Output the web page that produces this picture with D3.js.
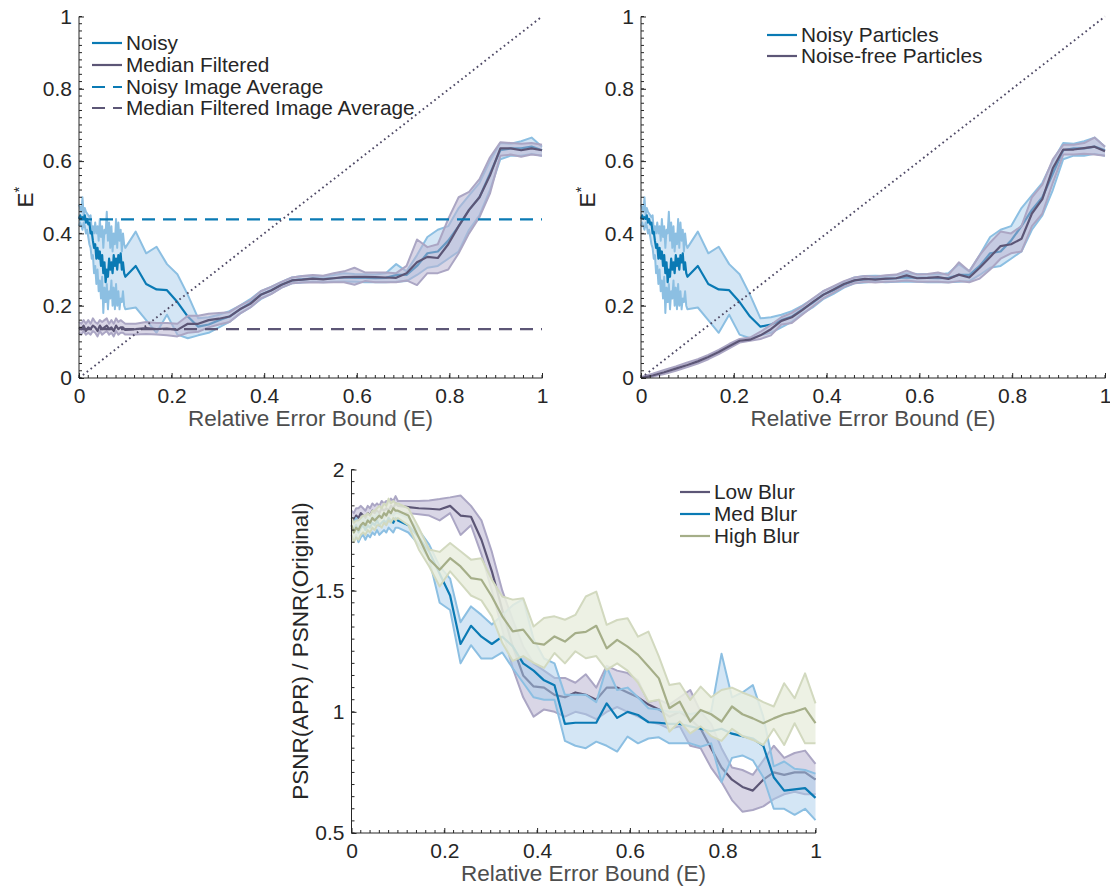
<!DOCTYPE html>
<html><head><meta charset="utf-8">
<script src="https://cdn.jsdelivr.net/npm/d3@7"></script>
<style>body{margin:0;background:#fff}svg{display:block}</style>
</head><body><svg id="c" width="1110" height="886"></svg>
<script>
// ---------- tick labels ----------
const xTicks = [0, 0.2, 0.4, 0.6, 0.8, 1];
const xTickLabels = ["0", "0.2", "0.4", "0.6", "0.8", "1"];
const yTicksTop = [0, 0.2, 0.4, 0.6, 0.8, 1];
const yTickLabelsTop = ["0", "0.2", "0.4", "0.6", "0.8", "1"];
const yTicksBottom = [0.5, 1, 1.5, 2];
const yTickLabelsBottom = ["0.5", "1", "1.5", "2"];

// ---------- x grids ----------
const xDense25 = [0,0.0025,0.005,0.0075,0.01,0.0125,0.015,0.0175,0.02,0.0225,0.025,0.0275,0.03,0.0325,0.035,0.0375,0.04,0.0425,0.045,0.0475,0.05,0.0525,0.055,0.0575,0.06,0.0625,0.065,0.0675,0.07,0.0725,0.075,0.0775,0.08,0.0825,0.085,0.0875,0.09,0.0925,0.095,0.0975,0.1];
const xDense5 = [0,0.005,0.01,0.015,0.02,0.025,0.03,0.035,0.04,0.045,0.05,0.055,0.06,0.065,0.07,0.075,0.08,0.085,0.09,0.095,0.1];
const xCoarse = [0,0.025,0.05,0.075,0.1];
const xSparse = [0.1225,0.145,0.1675,0.19,0.2125,0.235,0.2575,0.28,0.3025,0.325,0.3475,0.37,0.3925,0.415,0.4375,0.46,0.4825,0.505,0.5275,0.55,0.5725,0.595,0.6175,0.64,0.6625,0.685,0.7075,0.73,0.7525,0.775,0.7975,0.82,0.8425,0.865,0.8875,0.91,0.9325,0.955,0.9775,1.0];

// ---------- top panels: Noisy (shared) ----------
const noisyMeanDense = [0.44,0.45,0.44,0.445,0.44,0.45,0.43,0.44,0.425,0.43,0.40,0.405,0.38,0.36,0.37,0.33,0.36,0.33,0.35,0.31,0.34,0.29,0.32,0.265,0.30,0.28,0.33,0.30,0.32,0.29,0.34,0.31,0.33,0.30,0.34,0.32,0.345,0.30,0.32,0.29,0.28];
const noisyUpperDense = [0.48,0.47,0.46,0.50,0.45,0.47,0.46,0.455,0.45,0.445,0.45,0.41,0.42,0.40,0.43,0.40,0.42,0.38,0.44,0.39,0.42,0.36,0.41,0.40,0.46,0.38,0.43,0.36,0.42,0.35,0.40,0.37,0.44,0.36,0.43,0.38,0.41,0.35,0.40,0.37,0.36];
const noisyLowerDense = [0.42,0.43,0.42,0.41,0.43,0.42,0.40,0.41,0.39,0.37,0.36,0.33,0.34,0.29,0.31,0.26,0.30,0.24,0.27,0.22,0.28,0.18,0.25,0.21,0.26,0.19,0.24,0.22,0.27,0.20,0.25,0.19,0.26,0.20,0.24,0.19,0.22,0.21,0.24,0.20,0.19];
const noisyMeanSparse = [0.31,0.26,0.245,0.243,0.21,0.17,0.142,0.148,0.16,0.17,0.19,0.208,0.23,0.243,0.258,0.27,0.273,0.275,0.274,0.276,0.278,0.277,0.277,0.276,0.277,0.285,0.285,0.31,0.345,0.35,0.38,0.42,0.465,0.5,0.565,0.63,0.635,0.635,0.64,0.63];
const noisyUpperSparse = [0.405,0.345,0.363,0.315,0.287,0.23,0.165,0.168,0.175,0.185,0.2,0.218,0.24,0.252,0.266,0.278,0.282,0.283,0.282,0.285,0.29,0.288,0.287,0.286,0.29,0.315,0.295,0.34,0.39,0.41,0.42,0.47,0.505,0.54,0.6,0.65,0.648,0.655,0.665,0.64];
const noisyLowerSparse = [0.195,0.16,0.125,0.175,0.12,0.11,0.118,0.125,0.14,0.155,0.178,0.195,0.218,0.233,0.25,0.262,0.264,0.266,0.265,0.266,0.267,0.266,0.265,0.265,0.265,0.266,0.268,0.285,0.305,0.31,0.33,0.35,0.41,0.45,0.52,0.605,0.615,0.615,0.62,0.615];

// ---------- top-left: Median Filtered ----------
const medMeanDense = [0.14,0.135,0.145,0.13,0.14,0.135,0.145,0.14,0.13,0.145,0.135,0.14,0.145,0.135,0.14,0.13,0.145,0.135,0.14,0.14,0.133];
const medUpperDense = [0.155,0.15,0.16,0.15,0.16,0.15,0.165,0.155,0.15,0.16,0.155,0.16,0.165,0.15,0.16,0.15,0.165,0.155,0.16,0.155,0.15];
const medLowerDense = [0.125,0.12,0.13,0.12,0.125,0.12,0.13,0.125,0.115,0.13,0.12,0.125,0.13,0.12,0.125,0.115,0.13,0.12,0.125,0.125,0.12];
const medMeanSparse = [0.135,0.138,0.135,0.137,0.133,0.150,0.150,0.160,0.164,0.170,0.190,0.205,0.230,0.242,0.258,0.270,0.272,0.275,0.273,0.276,0.279,0.280,0.280,0.279,0.278,0.277,0.290,0.320,0.335,0.332,0.370,0.420,0.465,0.500,0.560,0.635,0.635,0.630,0.635,0.630];
const medUpperSparse = [0.150,0.155,0.152,0.152,0.150,0.172,0.172,0.178,0.180,0.182,0.200,0.215,0.240,0.252,0.266,0.278,0.282,0.285,0.283,0.290,0.295,0.305,0.292,0.292,0.292,0.290,0.310,0.383,0.362,0.370,0.440,0.500,0.515,0.550,0.610,0.652,0.650,0.648,0.650,0.645];
const medLowerSparse = [0.120,0.122,0.120,0.118,0.115,0.125,0.128,0.140,0.148,0.155,0.178,0.195,0.220,0.232,0.250,0.262,0.264,0.265,0.264,0.265,0.265,0.258,0.268,0.265,0.265,0.265,0.270,0.257,0.290,0.290,0.300,0.345,0.400,0.445,0.510,0.615,0.618,0.612,0.618,0.615];
const noisyImageAverage = 0.439;
const medianImageAverage = 0.135;

// ---------- top-right: Noise-free Particles ----------
const freeMean = [0,0.007,0.016,0.026,0.036,0.046,0.058,0.072,0.088,0.103,0.106,0.118,0.135,0.158,0.168,0.188,0.21,0.23,0.245,0.26,0.27,0.274,0.272,0.275,0.276,0.284,0.276,0.277,0.279,0.274,0.286,0.278,0.305,0.335,0.365,0.37,0.385,0.455,0.495,0.58,0.632,0.632,0.636,0.64,0.627];
const freeUpper = [0.003,0.012,0.022,0.032,0.043,0.052,0.064,0.078,0.094,0.108,0.112,0.128,0.147,0.168,0.18,0.198,0.22,0.24,0.254,0.268,0.278,0.282,0.28,0.284,0.286,0.297,0.286,0.288,0.292,0.285,0.32,0.295,0.34,0.375,0.405,0.4,0.42,0.5,0.535,0.605,0.645,0.645,0.65,0.665,0.64];
const freeLower = [0,0.004,0.011,0.02,0.03,0.04,0.052,0.066,0.082,0.098,0.103,0.108,0.118,0.148,0.152,0.175,0.198,0.22,0.236,0.252,0.262,0.266,0.264,0.266,0.267,0.27,0.266,0.266,0.266,0.264,0.268,0.265,0.275,0.3,0.33,0.345,0.35,0.42,0.455,0.54,0.618,0.618,0.62,0.618,0.615];

// ---------- bottom: Low / Med / High Blur ----------
const lowMean = [1.80,1.79,1.81,1.80,1.82,1.81,1.80,1.82,1.81,1.83,1.82,1.83,1.82,1.84,1.83,1.84,1.83,1.85,1.84,1.86,1.85,
  1.845,1.84,1.838,1.835,1.85,1.81,1.805,1.71,1.58,1.42,1.27,1.15,1.105,1.1,1.07,1.06,1.08,1.07,1.05,1.1,1.1,1.08,1.06,1.03,1.01,0.98,1.0,0.97,0.93,0.85,0.77,0.72,0.69,0.675,0.72,0.75,0.74,0.75,0.75,0.72];
const lowUpper = [1.83,1.82,1.84,1.84,1.85,1.84,1.83,1.85,1.84,1.86,1.85,1.86,1.85,1.87,1.86,1.87,1.86,1.88,1.87,1.89,1.87,
  1.87,1.87,1.872,1.878,1.885,1.893,1.85,1.79,1.66,1.5,1.38,1.27,1.2,1.17,1.14,1.14,1.12,1.155,1.1,1.19,1.17,1.16,1.13,1.04,1.05,1.03,1.06,1.09,1.0,0.95,0.85,0.77,0.76,0.74,0.8,0.86,0.81,0.83,0.84,0.785];
const lowLower = [1.77,1.76,1.78,1.76,1.79,1.78,1.77,1.79,1.78,1.80,1.79,1.80,1.79,1.81,1.80,1.81,1.80,1.82,1.81,1.83,1.82,
  1.82,1.815,1.81,1.79,1.82,1.73,1.77,1.65,1.5,1.34,1.18,1.06,0.98,1.01,1.0,0.98,1.0,0.99,0.97,1.0,1.02,1.0,0.98,0.96,0.95,0.93,0.94,0.86,0.85,0.77,0.71,0.636,0.588,0.595,0.61,0.64,0.66,0.67,0.66,0.66];
const medBlurMean = [1.76,1.75,1.77,1.74,1.76,1.77,1.75,1.77,1.76,1.78,1.77,1.79,1.77,1.78,1.79,1.78,1.80,1.79,1.78,1.80,1.79,
  1.77,1.72,1.66,1.57,1.48,1.28,1.355,1.31,1.28,1.31,1.27,1.2,1.17,1.13,1.11,0.95,0.955,0.955,0.955,1.035,0.975,1.0,0.987,0.957,0.955,0.95,0.95,0.94,0.93,0.92,0.93,0.91,0.9,0.89,0.86,0.73,0.675,0.68,0.685,0.645];
const medBlurUpper = [1.79,1.78,1.80,1.78,1.79,1.80,1.78,1.80,1.79,1.81,1.80,1.82,1.80,1.81,1.82,1.81,1.83,1.82,1.81,1.82,1.82,
  1.8,1.75,1.69,1.6,1.55,1.37,1.435,1.4,1.36,1.4,1.44,1.465,1.3,1.22,1.2,1.07,1.07,1.07,1.04,1.185,1.09,1.1,1.06,1.015,1.01,1.0,1.0,0.99,1.0,1.0,1.24,1.06,1.08,1.11,0.98,0.775,0.795,0.765,0.76,0.745];
const medBlurLower = [1.72,1.71,1.73,1.70,1.72,1.73,1.71,1.73,1.72,1.74,1.73,1.75,1.73,1.74,1.75,1.74,1.76,1.75,1.74,1.76,1.76,
  1.74,1.69,1.63,1.45,1.42,1.2,1.275,1.22,1.22,1.245,1.18,1.12,1.06,1.05,1.05,0.88,0.86,0.85,0.877,0.86,0.836,0.898,0.87,0.89,0.895,0.87,0.87,0.87,0.856,0.87,0.71,0.81,0.82,0.8,0.73,0.6,0.6,0.575,0.6,0.553];
const highMean = [1.77,1.74,1.76,1.75,1.77,1.78,1.77,1.79,1.78,1.80,1.79,1.80,1.81,1.80,1.82,1.81,1.83,1.82,1.84,1.83,1.83,
  1.81,1.72,1.63,1.586,1.634,1.6,1.552,1.545,1.476,1.394,1.332,1.339,1.284,1.277,1.311,1.29,1.325,1.33,1.355,1.262,1.297,1.269,1.235,1.187,1.138,1.015,1.042,0.96,1.008,0.99,0.96,1.022,0.99,0.973,0.953,0.973,0.99,1.0,1.015,0.953];
const highUpper = [1.80,1.78,1.79,1.79,1.80,1.81,1.81,1.82,1.81,1.83,1.83,1.84,1.85,1.84,1.86,1.85,1.88,1.86,1.87,1.86,1.86,
  1.84,1.76,1.67,1.66,1.697,1.663,1.628,1.634,1.545,1.476,1.463,1.469,1.352,1.387,1.394,1.38,1.4,1.476,1.496,1.359,1.379,1.386,1.31,1.331,1.228,1.111,1.118,1.049,1.104,1.06,1.09,1.1,1.08,1.063,1.04,1.022,1.118,1.056,1.159,1.035];
const highLower = [1.73,1.70,1.72,1.71,1.73,1.74,1.73,1.75,1.74,1.76,1.75,1.77,1.77,1.76,1.78,1.77,1.79,1.78,1.80,1.79,1.80,
  1.77,1.67,1.6,1.517,1.58,1.53,1.48,1.46,1.394,1.284,1.21,1.23,1.202,1.181,1.243,1.2,1.25,1.221,1.23,1.173,1.2,1.17,1.12,1.042,1.05,0.918,0.96,0.911,0.94,0.9,0.88,0.93,0.9,0.884,0.863,0.93,0.863,0.953,0.87,0.87];

// ---------- styles ----------
const FONT = "'Liberation Sans', Arial, Helvetica, sans-serif";
const BLUE = {line:"#0a7ab4", edge:"#8cbfe2", fill:"rgb(170,205,235)", fo:0.5};
const PURPLE = {line:"#5c5676", edge:"#aba6c4", fill:"rgb(185,180,210)", fo:0.55};
const GREEN = {line:"#a5ae88", edge:"#d2d9bf", fill:"rgb(234,238,223)", fo:0.85};

const svg = d3.select("#c");

function axes(g, x, y, yTicks, yLabels, yMinorStep) {
  const [x0, x1] = x.range();
  const [yb, yt] = y.range();
  const yd = y.domain();
  const xMin = d3.range(0, 1.0001, 0.02);
  const yMin = d3.range(yd[0], yd[1] + 1e-6, yMinorStep);
  g.append("g").selectAll("line").data(xMin).join("line")
    .attr("x1", d => x(d)).attr("x2", d => x(d)).attr("y1", yb).attr("y2", yb - 3)
    .attr("stroke", "#262626").attr("stroke-width", 1);
  g.append("g").selectAll("line").data(yMin).join("line")
    .attr("y1", d => y(d)).attr("y2", d => y(d)).attr("x1", x0).attr("x2", x0 + 3)
    .attr("stroke", "#262626").attr("stroke-width", 1);
  const xa = d3.axisBottom(x).tickValues(xTicks).tickSize(-5).tickPadding(10)
    .tickFormat((d, i) => xTickLabels[i]);
  const ya = d3.axisLeft(y).tickValues(yTicks).tickSize(-5).tickPadding(7)
    .tickFormat((d, i) => yLabels[i]);
  const gx = g.append("g").attr("transform", `translate(0,${yb})`).call(xa);
  const gy = g.append("g").attr("transform", `translate(${x0},0)`).call(ya);
  [gx, gy].forEach(a => {
    a.select(".domain").remove();
    a.selectAll("line").attr("stroke", "#262626");
    a.selectAll("text").attr("fill", "#262626").style("font-family", FONT).style("font-size", "21px");
  });
  g.append("line").attr("x1", x0).attr("x2", x1 + 0.5).attr("y1", yb).attr("y2", yb).attr("stroke", "#262626");
  g.append("line").attr("x1", x0).attr("x2", x0).attr("y1", yb).attr("y2", yt).attr("stroke", "#262626");
}

function band(g, x, y, xs, mean, up, lo, st) {
  const pts = xs.map((v, i) => ({x: v, m: mean[i], u: up[i], l: lo[i]}));
  g.append("path").datum(pts)
    .attr("d", d3.area().x(d => x(d.x)).y0(d => y(d.l)).y1(d => y(d.u)))
    .attr("fill", st.fill).attr("fill-opacity", st.fo).attr("stroke", "none");
  ["u", "l"].forEach(k => {
    g.append("path").datum(pts)
      .attr("d", d3.line().x(d => x(d.x)).y(d => y(d[k])))
      .attr("fill", "none").attr("stroke", st.edge).attr("stroke-width", 2).attr("stroke-linejoin", "round");
  });
  g.append("path").datum(pts)
    .attr("d", d3.line().x(d => x(d.x)).y(d => y(d.m)))
    .attr("fill", "none").attr("stroke", st.line).attr("stroke-width", 2.2).attr("stroke-linejoin", "round");
}

function legend(g, x0, items, rowY) {
  items.forEach((it, i) => {
    const yy = rowY[i];
    g.append("line").attr("x1", x0).attr("x2", x0 + 30).attr("y1", yy).attr("y2", yy)
      .attr("stroke", it.color).attr("stroke-width", 2.2)
      .attr("stroke-dasharray", it.dash ? "13,8" : null);
    g.append("text").attr("x", x0 + 34).attr("y", yy + 7).text(it.label)
      .attr("fill", "#262626").style("font-family", FONT).style("font-size", "20.8px");
  });
}

function xLabel(g, x, yb) {
  const [x0, x1] = x.range();
  g.append("text").attr("x", (x0 + x1) / 2).attr("y", yb + 48).attr("text-anchor", "middle")
    .text("Relative Error Bound (E)").attr("fill", "#4d4d4d")
    .style("font-family", FONT).style("font-size", "22.5px");
}

function eStar(g, cx, cy) {
  const t = g.append("text").attr("transform", `translate(${cx},${cy}) rotate(-90)`)
    .attr("text-anchor", "middle").attr("fill", "#262626")
    .style("font-family", FONT).style("font-size", "22.5px");
  t.append("tspan").text("E");
  t.append("tspan").text("*").attr("dy", -9).style("font-size", "15px");
}

function diagonal(g, x, y) {
  g.append("line").attr("x1", x(0)).attr("x2", x(1)).attr("y1", y(0)).attr("y2", y(1))
    .attr("stroke", "#4f4a66").attr("stroke-width", 1.9).attr("stroke-dasharray", "1.7,3.2");
}

const noisyX = xDense25.concat(xSparse);
const noisyMean = noisyMeanDense.concat(noisyMeanSparse);
const noisyUpper = noisyUpperDense.concat(noisyUpperSparse);
const noisyLower = noisyLowerDense.concat(noisyLowerSparse);

// ===== Panel A (top-left) =====
{
  const g = svg.append("g");
  const x = d3.scaleLinear([0, 1], [79, 542]);
  const y = d3.scaleLinear([0, 1], [378, 16.5]);
  band(g, x, y, noisyX, noisyMean, noisyUpper, noisyLower, BLUE);
  band(g, x, y, xDense5.concat(xSparse), medMeanDense.concat(medMeanSparse),
       medUpperDense.concat(medUpperSparse), medLowerDense.concat(medLowerSparse), PURPLE);
  g.append("line").attr("x1", x(0)).attr("x2", x(1)).attr("y1", y(noisyImageAverage)).attr("y2", y(noisyImageAverage))
    .attr("stroke", BLUE.line).attr("stroke-width", 2.2).attr("stroke-dasharray", "13,8");
  g.append("line").attr("x1", x(0)).attr("x2", x(1)).attr("y1", y(medianImageAverage)).attr("y2", y(medianImageAverage))
    .attr("stroke", PURPLE.line).attr("stroke-width", 2.2).attr("stroke-dasharray", "13,8");
  diagonal(g, x, y);
  axes(g, x, y, yTicksTop, yTickLabelsTop, 0.02);
  xLabel(g, x, 378);
  eStar(g, 33, 197);
  legend(g, 92, [
    {label: "Noisy", color: BLUE.line},
    {label: "Median Filtered", color: PURPLE.line},
    {label: "Noisy Image Average", color: BLUE.line, dash: true},
    {label: "Median Filtered Image Average", color: PURPLE.line, dash: true}
  ], [43, 65, 87, 108]);
}

// ===== Panel B (top-right) =====
{
  const g = svg.append("g");
  const x = d3.scaleLinear([0, 1], [641, 1105]);
  const y = d3.scaleLinear([0, 1], [378, 16.5]);
  band(g, x, y, noisyX, noisyMean, noisyUpper, noisyLower, BLUE);
  band(g, x, y, xCoarse.concat(xSparse), freeMean, freeUpper, freeLower, PURPLE);
  diagonal(g, x, y);
  axes(g, x, y, yTicksTop, yTickLabelsTop, 0.02);
  xLabel(g, x, 378);
  eStar(g, 595, 197);
  legend(g, 767, [
    {label: "Noisy Particles", color: BLUE.line},
    {label: "Noise-free Particles", color: PURPLE.line}
  ], [35, 56]);
}

// ===== Panel C (bottom) =====
{
  const g = svg.append("g");
  const x = d3.scaleLinear([0, 1], [351.5, 815.5]);
  const y = d3.scaleLinear([0.5, 2], [833, 469.5]);
  const bx = xDense5.concat(xSparse);
  band(g, x, y, bx, lowMean, lowUpper, lowLower, PURPLE);
  band(g, x, y, bx, medBlurMean, medBlurUpper, medBlurLower, BLUE);
  band(g, x, y, bx, highMean, highUpper, highLower, GREEN);
  axes(g, x, y, yTicksBottom, yTickLabelsBottom, 0.05);
  xLabel(g, x, 833);
  g.append("text").attr("transform", "translate(308,651) rotate(-90)").attr("text-anchor", "middle")
    .text("PSNR(APR) / PSNR(Original)").attr("fill", "#262626")
    .style("font-family", FONT).style("font-size", "22.5px");
  legend(g, 680, [
    {label: "Low Blur", color: PURPLE.line},
    {label: "Med Blur", color: BLUE.line},
    {label: "High Blur", color: GREEN.line}
  ], [492, 514, 536]);
}
</script></body></html>
